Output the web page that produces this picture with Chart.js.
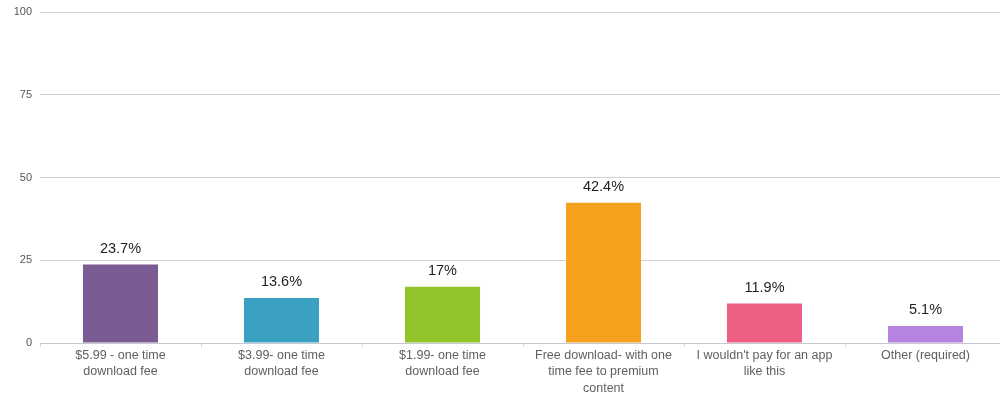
<!DOCTYPE html>
<html>
<head>
<meta charset="utf-8">
<script src="https://cdn.jsdelivr.net/npm/chart.js@4/dist/chart.umd.min.js"></script>
<style>
  html, body { margin: 0; padding: 0; background: #fff; overflow: hidden; }
  #wrap { width: 1006px; height: 396px; position: relative; }
</style>
</head>
<body>
<div id="wrap"><canvas id="c" width="1006" height="396"></canvas></div>
<script>
// Survey answers: how much would you pay for the app
const categories = [
  ["$5.99 - one time", "download fee"],
  ["$3.99- one time", "download fee"],
  ["$1.99- one time", "download fee"],
  ["Free download- with one", "time fee to premium", "content"],
  ["I wouldn't pay for an app", "like this"],
  ["Other (required)"]
];
const percentages = [23.7, 13.6, 17, 42.4, 11.9, 5.1];
const barColors = ["#7b5b93", "#3ba1c3", "#93c42a", "#f5a11d", "#ef5f84", "#b683e0"];
const yTicks = [0, 25, 50, 75, 100];

const FONT = "'Liberation Sans', Arial, sans-serif";

// Writes each bar's percentage just above it
const valueLabels = {
  id: "valueLabels",
  afterDatasetsDraw(chart) {
    const ctx = chart.ctx;
    const meta = chart.getDatasetMeta(0);
    ctx.save();
    ctx.font = "14.5px " + FONT;
    ctx.fillStyle = "#1f1f1f";
    ctx.textAlign = "center";
    ctx.textBaseline = "alphabetic";
    meta.data.forEach((bar, i) => {
      ctx.fillText(percentages[i] + "%", bar.x, bar.y - 12);
    });
    ctx.restore();
  }
};

new Chart(document.getElementById("c"), {
  type: "bar",
  data: {
    labels: categories,
    datasets: [{
      data: percentages,
      backgroundColor: barColors,
      borderWidth: 0,
      categoryPercentage: 1,
      barPercentage: 0.466
    }]
  },
  options: {
    responsive: false,
    animation: false,
    layout: { padding: { top: 12, left: 0, right: 0, bottom: 0 } },
    plugins: { legend: { display: false }, tooltip: { enabled: false } },
    scales: {
      x: {
        grid: {
          offset: true,
          drawOnChartArea: false,
          drawTicks: true,
          tickLength: 4,
          color: "#d4d4dc"
        },
        border: { display: true, color: "#c8c8d0" },
        ticks: {
          color: "#606060",
          font: { family: FONT, size: 12.5, lineHeight: 1.32 },
          padding: 0,
          maxRotation: 0,
          autoSkip: false
        },
        afterFit(scale) { scale.height = 53; }
      },
      y: {
        min: 0,
        max: 100,
        afterBuildTicks(scale) { scale.ticks = yTicks.map(v => ({ value: v })); },
        grid: { color: "#cfcfd4", drawTicks: false },
        border: { display: false },
        ticks: {
          color: "#555",
          font: { family: FONT, size: 11 },
          padding: 8
        },
        afterFit(scale) {
          scale.width = 40;
          scale.paddingTop = 0;
          scale.paddingBottom = 0;
        }
      }
    }
  },
  plugins: [valueLabels]
});
</script>
</body>
</html>
